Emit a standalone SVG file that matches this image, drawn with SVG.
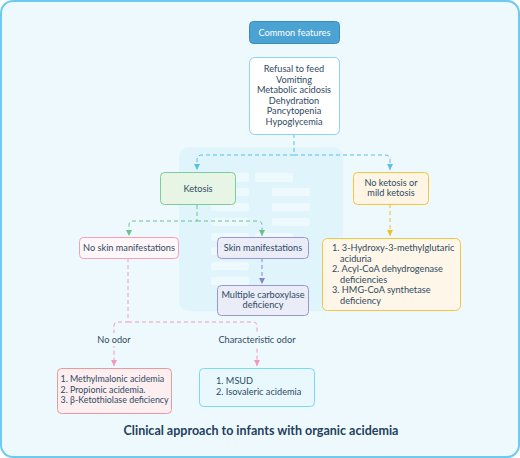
<svg xmlns="http://www.w3.org/2000/svg" width="520" height="458" viewBox="0 0 520 458">
<defs>
<style>
.t{font-family:Lato,"Noto Sans",sans-serif;font-size:9.2px;fill:#2f4a63}
.s{font-size:8.9px}
.c{text-anchor:middle}
.bar{fill:#ffffff;fill-opacity:0.45}
.cn{fill:none;stroke-width:1;stroke-dasharray:4 3}
</style>
<marker id="aB" viewBox="0 0 6 6" refX="6" refY="3" markerWidth="6" markerHeight="6" orient="auto"><path d="M0,0 L6,3 L0,6 z" fill="#5bbfe8"/></marker>
<marker id="aG" viewBox="0 0 6 6" refX="6" refY="3" markerWidth="6" markerHeight="6" orient="auto"><path d="M0,0 L6,3 L0,6 z" fill="#6cc08b"/></marker>
<marker id="aY" viewBox="0 0 6 6" refX="6" refY="3" markerWidth="6" markerHeight="6" orient="auto"><path d="M0,0 L6,3 L0,6 z" fill="#f2bd2c"/></marker>
<marker id="aP" viewBox="0 0 6 6" refX="6" refY="3" markerWidth="6" markerHeight="6" orient="auto"><path d="M0,0 L6,3 L0,6 z" fill="#8a86c4"/></marker>
<marker id="aK" viewBox="0 0 6 6" refX="6" refY="3" markerWidth="6" markerHeight="6" orient="auto"><path d="M0,0 L6,3 L0,6 z" fill="#f29ab3"/></marker>
</defs>
<rect x="1" y="1" width="518" height="456" rx="12" fill="#eef9fe" stroke="#6ccbef" stroke-width="2"/>
<g id="watermark">
<rect x="179" y="147" width="164" height="164" rx="10" fill="#e0f4fc"/>
<rect class="bar" x="211" y="173" width="38" height="9" rx="2"/>
<rect class="bar" x="255" y="173" width="38" height="9" rx="2"/>
<rect class="bar" x="211" y="188" width="38" height="8" rx="2"/>
<rect class="bar" x="272" y="188" width="38" height="8" rx="2"/>
<rect class="bar" x="211" y="203" width="38" height="8" rx="2"/>
<rect class="bar" x="272" y="203" width="38" height="8" rx="2"/>
<rect class="bar" x="211" y="218" width="38" height="8" rx="2"/>
<rect class="bar" x="272" y="218" width="38" height="8" rx="2"/>
<rect class="bar" x="211" y="233" width="38" height="8" rx="2"/>
<rect class="bar" x="255" y="233" width="38" height="8" rx="2"/>
<rect class="bar" x="211" y="247" width="38" height="8" rx="2"/>
<rect class="bar" x="211" y="262" width="38" height="8" rx="2"/>
<rect class="bar" x="211" y="277" width="38" height="8" rx="2"/>
</g>
<g id="connectors">
<path class="cn" stroke="#5bbfe8" d="M294,134 V155 H202 Q197,155 197,160 V170" marker-end="url(#aB)"/>
<path class="cn" stroke="#5bbfe8" d="M294,155 H385 Q390,155 390,160 V170" marker-end="url(#aB)"/>
<path class="cn" stroke="#f2bd2c" d="M390,204 V236" marker-end="url(#aY)"/>
<path class="cn" stroke="#6cc08b" d="M197,205 V221 H133 Q129,221 129,225 V236" marker-end="url(#aG)"/>
<path class="cn" stroke="#6cc08b" d="M197,221 H258 Q262,221 262,225 V236" marker-end="url(#aG)"/>
<path class="cn" stroke="#8a86c4" d="M262,258 V284" marker-end="url(#aP)"/>
<path class="cn" stroke="#f29ab3" d="M128,258 V322 H118 Q114,322 114,326 V366" marker-end="url(#aK)"/>
<path class="cn" stroke="#f29ab3" d="M128,322 H253 Q257,322 257,326 V366" marker-end="url(#aK)"/>
<rect x="94" y="333" width="40" height="13" fill="#eef9fe"/>
<text class="t c" x="114" y="343">No odor</text>
<rect x="217" y="333" width="80" height="13" fill="#eef9fe"/>
<text class="t c" x="257" y="343">Characteristic odor</text>
</g>
<g id="common-features">
<rect x="249.5" y="21.5" width="90" height="22" rx="4" fill="#4ba3d3" stroke="#3a8abd"/>
<text class="t c" x="294.5" y="35.5" style="fill:#ffffff">Common features</text>
</g>
<g id="features">
<rect x="249.5" y="57.5" width="90" height="77" rx="5" fill="#ffffff" stroke="#8fd3f5"/>
<text class="t c" x="294" y="72">Refusal to feed</text>
<text class="t c" x="294" y="82.5">Vomiting</text>
<text class="t c" x="294" y="93">Metabolic acidosis</text>
<text class="t c" x="294" y="103.5">Dehydration</text>
<text class="t c" x="294" y="114">Pancytopenia</text>
<text class="t c" x="294" y="124.5">Hypoglycemia</text>
</g>
<g id="ketosis">
<rect x="160.5" y="172.5" width="75" height="32" rx="4" fill="#e6f4e1" fill-opacity="0.85" stroke="#7ccb9b"/>
<text class="t c" x="198" y="192">Ketosis</text>
</g>
<g id="no-ketosis">
<rect x="353.5" y="172.5" width="75" height="32" rx="4" fill="#fef5e4" stroke="#f5c542"/>
<text class="t c" x="391" y="186">No ketosis or</text>
<text class="t c" x="391" y="196">mild ketosis</text>
</g>
<g id="no-ketosis-list">
<rect x="322.5" y="238.5" width="138" height="72" rx="5" fill="#fef6e8" stroke="#f5c542"/>
<text class="t" x="332" y="251">1. 3-Hydroxy-3-methylglutaric</text>
<text class="t" x="340" y="261.5">aciduria</text>
<text class="t" x="332" y="272">2. Acyl-CoA dehydrogenase</text>
<text class="t" x="340" y="282.5">deficiencies</text>
<text class="t" x="332" y="293">3. HMG-CoA synthetase</text>
<text class="t" x="340" y="303.5">deficiency</text>
</g>
<g id="no-skin">
<rect x="79.5" y="237.5" width="99" height="21" rx="4" fill="#fff6f9" stroke="#f4a0b8"/>
<text class="t c" x="129" y="251">No skin manifestations</text>
</g>
<g id="skin">
<rect x="217.5" y="237.5" width="91" height="21" rx="4" fill="#ebebf6" fill-opacity="0.9" stroke="#9a97cc"/>
<text class="t c" x="263" y="251">Skin manifestations</text>
</g>
<g id="carboxylase">
<rect x="217.5" y="285.5" width="91" height="30" rx="4" fill="#ebebf6" fill-opacity="0.9" stroke="#9a97cc"/>
<text class="t c" x="263" y="297.5">Multiple carboxylase</text>
<text class="t c" x="263" y="307.5">deficiency</text>
</g>
<g id="no-odor-list">
<rect x="57.5" y="368.5" width="114" height="45" rx="4" fill="#fdeef0" stroke="#e79aa0"/>
<text class="t s" x="60.5" y="382">1. Methylmalonic acidemia</text>
<text class="t s" x="60.5" y="392.5">2. Propionic acidemia.</text>
<text class="t s" x="60.5" y="403">3. β-Ketothiolase deficiency</text>
</g>
<g id="odor-list">
<rect x="199.5" y="368.5" width="115" height="38" rx="4" fill="#e9f8fd" stroke="#7dd8f3"/>
<text class="t" x="216" y="384">1. MSUD</text>
<text class="t" x="216" y="394.5">2. Isovaleric acidemia</text>
</g>
<text x="261" y="435" text-anchor="middle" style="font-family:Lato,'Noto Sans',sans-serif;font-size:12.5px;font-weight:bold;fill:#23405c">Clinical approach to infants with organic acidemia</text>
</svg>
